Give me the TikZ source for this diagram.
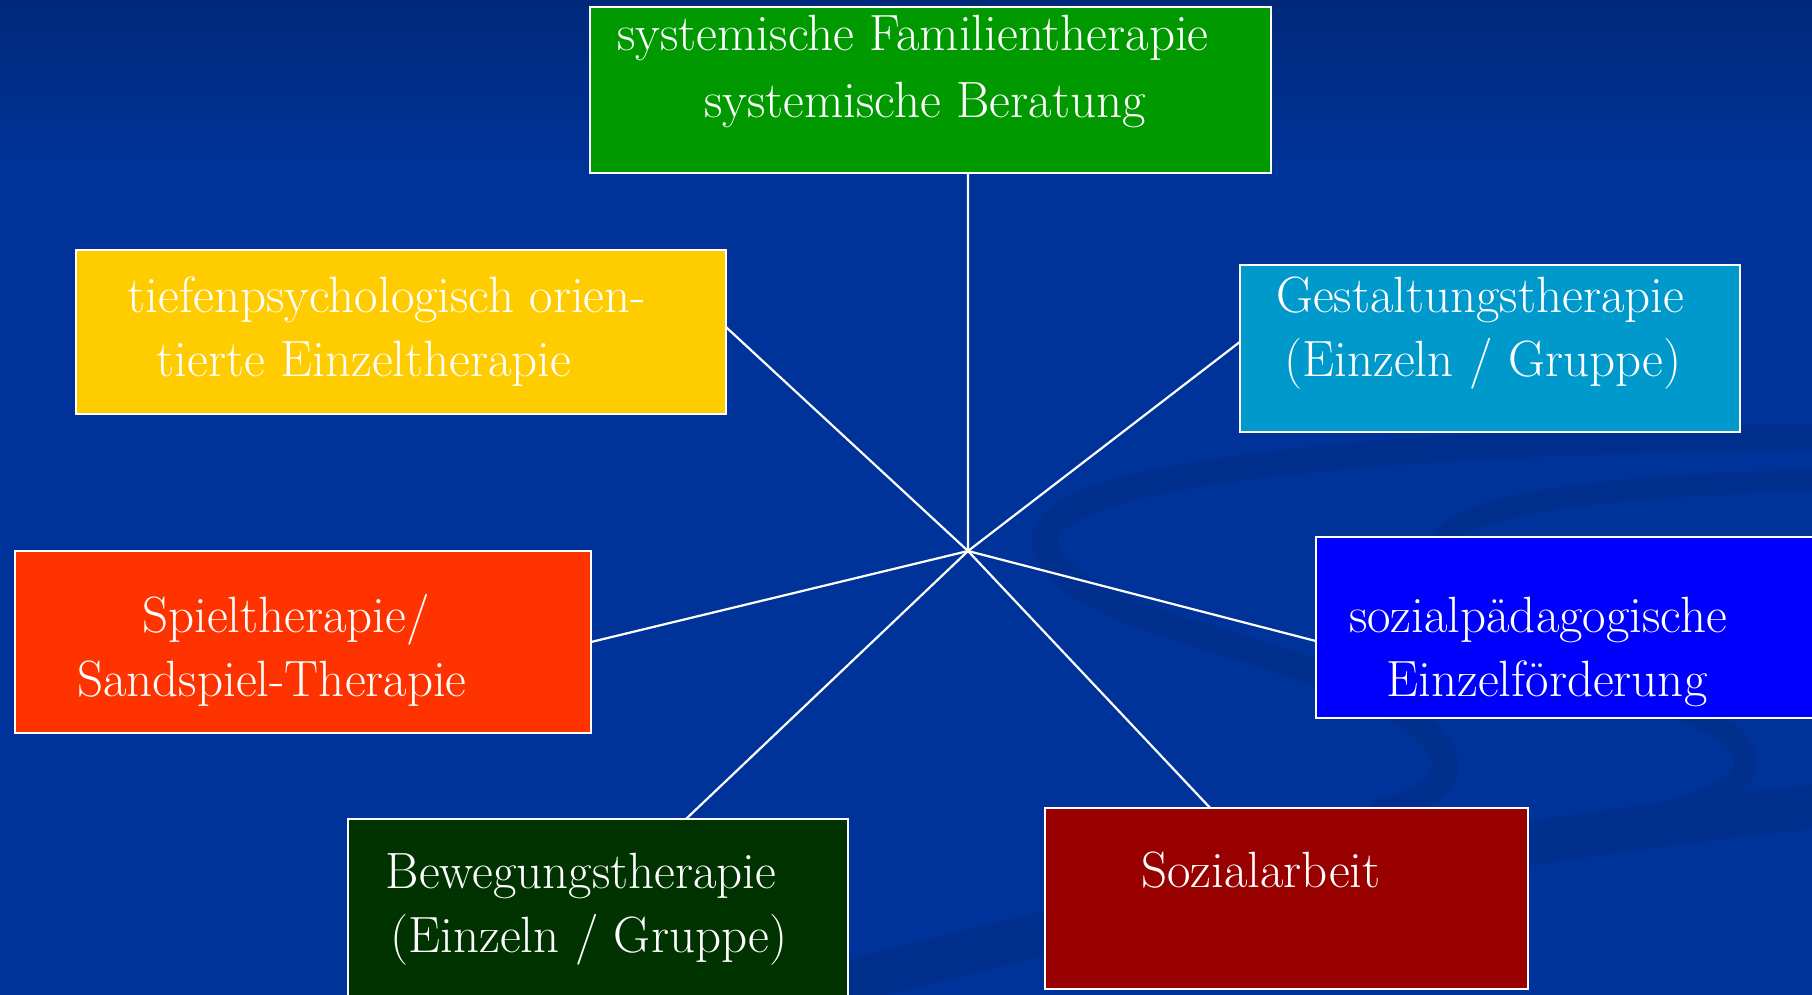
\documentclass[tikz,border=0pt]{standalone}
\usetikzlibrary{calc}
\definecolor{bgtop}{HTML}{00297A}
\definecolor{bgmain}{HTML}{003399}
\definecolor{swoosh}{HTML}{002F8E}
\definecolor{cgreen}{HTML}{009900}
\definecolor{cyellow}{HTML}{FFCC00}
\definecolor{ccyan}{HTML}{0099CC}
\definecolor{cred}{HTML}{FF3300}
\definecolor{cblue}{HTML}{0000FF}
\definecolor{cdkgreen}{HTML}{003300}
\definecolor{cdkred}{HTML}{990000}
\begin{document}
\begin{tikzpicture}[x=1pt,y=-1pt,
  box/.style={draw=white, line width=2.5pt, inner sep=0pt, outer sep=0pt, anchor=north west},
  lbl/.style={text=white, font=\fontsize{51}{60}\selectfont, anchor=base, inner sep=0pt},
  link/.style={white, line width=2.2pt},
  band/.style={swoosh, line cap=round}]
\useasboundingbox (0,0) rectangle (1812,995);
% background
\fill[bgmain] (0,0) rectangle (1812,995);
\shade[top color=bgtop, bottom color=bgmain] (0,0) rectangle (1812,170);
% decorative swooshes
\draw[band, line width=26pt] (1830,437) .. controls (1400,440) and (1045,470) .. (1045,540)
  .. controls (1045,610) and (1250,640) .. (1360,690)
  .. controls (1470,740) and (1470,790) .. (1380,812);
\draw[band, line width=22pt] (1830,480) .. controls (1600,485) and (1450,505) .. (1440,545)
  .. controls (1450,640) and (1690,700) .. (1730,735)
  .. controls (1770,770) and (1730,800) .. (1650,815);
\draw[band, line width=44pt] (820,990) .. controls (1150,900) and (1500,840) .. (1830,805);
% hub
\coordinate (hub) at (968,551);
% boxes
\node[box, fill=cgreen, minimum width=681pt, minimum height=166pt] (g) at (590,7) {};
\node[box, fill=cyellow, minimum width=650pt, minimum height=164pt] (y) at (76,250) {};
\node[box, fill=ccyan, minimum width=500pt, minimum height=167pt] (c) at (1240,265) {};
\node[box, fill=cred, minimum width=576pt, minimum height=182pt] (r) at (15,551) {};
\node[box, fill=cblue, minimum width=520pt, minimum height=181pt] (b) at (1316,537) {};
\node[box, fill=cdkgreen, minimum width=500pt, minimum height=200pt] (dg) at (348,819) {};
\node[box, fill=cdkred, minimum width=483pt, minimum height=181pt] (dr) at (1045,808) {};
% connectors
\draw[link] (hub) -- ($(g.south west)!0.555!(g.south east)$);
\draw[link] (hub) -- ($(y.north east)!0.47!(y.south east)$);
\draw[link] (hub) -- ($(c.north west)!0.46!(c.south west)$);
\draw[link] (hub) -- (r.east);
\draw[link] (hub) -- ($(b.north west)!0.575!(b.south west)$);
\draw[link] (hub) -- ($(dg.north west)!0.676!(dg.north east)$);
\draw[link] (hub) -- ($(dr.north west)!0.342!(dr.north east)$);
% labels
\node[lbl] (g1) at (913,51) {systemische Familientherapie};
\node[lbl] (g2) at (925,118) {systemische Beratung};
\node[lbl] (y1) at (387,312) {tiefenpsychologisch orien-};
\node[lbl] (y2) at (364,376) {tierte Einzeltherapie};
\node[lbl] (c1) at (1480,312) {Gestaltungstherapie};
\node[lbl] (c2) at (1483,376) {(Einzeln / Gruppe)};
\node[lbl] (r1) at (286,632) {Spieltherapie/};
\node[lbl] (r2) at (272,696) {Sandspiel-Therapie};
\node[lbl] (b1) at (1538,632) {sozialpädagogische};
\node[lbl] (b2) at (1547,696) {Einzelförderung};
\node[lbl] (dg1) at (581,888) {Bewegungstherapie};
\node[lbl] (dg2) at (589,952) {(Einzeln / Gruppe)};
\node[lbl] (dr1) at (1261,887) {Sozialarbeit};
\end{tikzpicture}
\end{document}
